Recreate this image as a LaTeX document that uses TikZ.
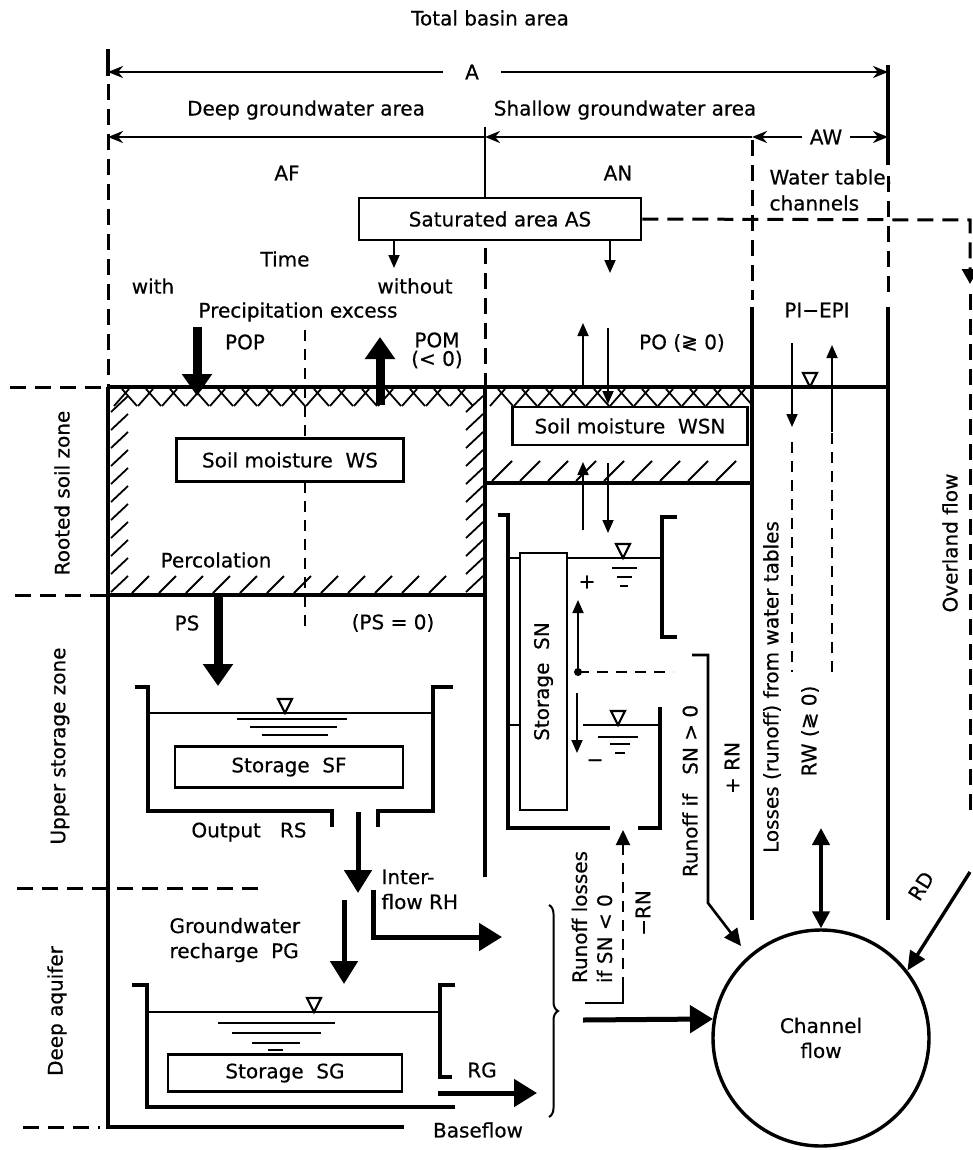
\documentclass[tikz,border=0pt]{standalone}
\usepackage{fontspec}
\setmainfont{DejaVu Sans}[FakeBold=0.5]
\usetikzlibrary{arrows.meta,positioning,decorations.pathreplacing}

\begin{document}
\begin{tikzpicture}[x=1pt, y=-1pt, >=Stealth,
  every node/.style={font=\fontsize{20}{25}\selectfont},
  bound/.style={line width=3.2pt},
  zoneline/.style={line width=3pt, dash pattern=on 16pt off 9pt},
  fluxdash/.style={line width=2pt, dash pattern=on 11pt off 8pt},
  hatch/.style={line width=1.8pt},
  tank/.style={line width=3.2pt},
  wline/.style={line width=1.9pt},
  storebox/.style={draw, line width=2.6pt, fill=white, inner sep=0pt},
  thinarrow/.style={line width=1.8pt, -{Triangle[length=13pt,width=11pt]}},
  fatarrow/.style={line width=9pt, -{Triangle[length=22pt,width=29pt]}},
  midarrow/.style={line width=5pt, -{Triangle[length=23pt,width=27pt]}},
  dimarrow/.style={line width=2.6pt, -{Stealth[length=15pt,width=12pt]}}]
  \useasboundingbox (0,0) rectangle (973,1150);

  % hatching of the soil zones
  \foreach \hx in {114,138,...,466} {
    \draw[hatch] (\hx,406) -- (\hx+15,389);
    \draw[hatch] (\hx+8,389) -- (\hx+23,406);
  }
  \foreach \hy in {412,430,...,592} {
    \draw[hatch] (111,\hy) -- (128,\hy-16);
    \draw[hatch] (466,\hy) -- (483,\hy-16);
  }
  \foreach \hx in {132,159,...,450} \draw[hatch] (\hx,593) -- (\hx+17,576);
  \foreach \hx in {490,514,...,730} {
    \draw[hatch] (\hx,406) -- (\hx+15,389);
    \draw[hatch] (\hx+8,389) -- (\hx+23,406);
  }
  \foreach \hx in {492,520,...,728} \draw[hatch] (\hx,481) -- (\hx+20,461);

  % area boundaries
  \draw[bound] (108,49) -- (108,76);
  \draw[zoneline] (108,84) -- (108,387);
  \draw[bound] (108,387) -- (108,1127) -- (404,1127);
  \draw[zoneline] (23,1127) -- (100,1127);
  \draw[line width=1.8pt] (485,127) -- (485,198);
  \draw[zoneline] (485,248) -- (485,387);
  \draw[bound] (485,387) -- (485,877);
  \draw[fluxdash] (305,330) -- (305,630);
  \draw[zoneline] (752,140) -- (752,300);
  \draw[bound] (752,307) -- (752,920);
  \draw[bound] (888,65) -- (888,165);
  \draw[zoneline] (888,176) -- (888,300);
  \draw[bound] (888,307) -- (888,920);
  \draw[bound] (108,387) -- (888,387);
  \draw[zoneline] (10,387) -- (108,387);
  \draw[bound] (108,595) -- (485,595);
  \draw[zoneline] (15,595) -- (108,595);
  \draw[bound] (485,483) -- (752,483);
  \draw[zoneline] (17,888) -- (262,888);

  % titles and dimension lines
  \node (title) at (490,18) {Total basin area};
  \node[inner xsep=22pt] (lblA) at (472,72) {A};
  \draw[dimarrow] (lblA) -- (888,72);
  \draw[dimarrow] (lblA) -- (108,72);
  \node (deep) at (306,110) {Deep groundwater area};
  \node (shallow) at (625,110) {Shallow groundwater area};
  \draw[dimarrow, {Stealth[length=15pt,width=12pt]}-] (108,137) -- (485,137);
  \draw[dimarrow, {Stealth[length=15pt,width=12pt]}-] (485,137) -- (752,137);
  \node[inner xsep=8pt] (lblAW) at (826,137) {AW};
  \draw[dimarrow] (lblAW) -- (888,137);
  \draw[dimarrow] (lblAW) -- (752,137);
  \node (af) at (287,173) {AF};
  \node (an) at (618,173) {AN};
  \node[align=left, anchor=west, font=\fontsize{20}{26}\selectfont] (wtab) at (766,190) {Water table,\\channels};

  % saturated area and overland flow
  \node[storebox, minimum width=282pt, minimum height=42pt] (sat) at (500,219) {Saturated area AS};
  \draw[zoneline, -{Triangle[length=15pt,width=16pt]}] (sat.east) -- (970,220) -- (970,284);
  \draw[zoneline] (970,294) -- (970,815);
  \node[rotate=90] (overland) at (950,543) {Overland flow};
  \draw[thinarrow] (394,240) -- (394,268);
  \draw[thinarrow] (610,240) -- (610,273);

  \node (time) at (285,259) {Time};
  \node (with) at (153,286) {with};
  \node (without) at (415,286) {without};
  \node (pex) at (298,312) {Precipitation excess};
  \node (pop) at (245,342) {POP};
  \node (pom) at (437,340) {POM};
  \node[below=-4pt of pom] (pomneg) {(< 0)};
  \draw[fatarrow] (197,327) -- (197,396);
  \draw[fatarrow] (380,405) -- (380,337);

  % shallow zone fluxes
  \node (po) at (682,343) {PO (≷ 0)};
  \draw[thinarrow] (583,387) -- (583,323);
  \draw[thinarrow] (608,328) -- (608,404);
  \node (piepi) at (817,310) {PI−EPI};
  \draw[thinarrow] (792,343) -- (792,427);
  \draw[fluxdash] (792,442) -- (792,672);
  \draw[fluxdash] (832,672) -- (832,432);
  \draw[thinarrow] (832,432) -- (832,345);

  % soil moisture
  \node[storebox, minimum width=227pt, minimum height=43pt] (ws) at (290,460) {Soil moisture\ \ WS};
  \node[storebox, minimum width=235pt, minimum height=38pt] (wsn) at (630,426) {Soil moisture\ \ WSN};
  \node (perc) at (216,560) {Percolation};
  \node[rotate=90] (rooted) at (62,493) {Rooted soil zone};
  \node[rotate=90] (upper) at (60,746) {Upper storage zone};
  \node[rotate=90] (aquifer) at (57,1011) {Deep aquifer};
  \draw[thinarrow] (583,530) -- (583,462);
  \draw[thinarrow] (608,463) -- (608,533);

  % upper storage SF
  \node (ps) at (187,623) {PS};
  \node (pszero) at (393,623) {(PS = 0)};
  \draw[fatarrow] (218,595) -- (218,686);
  \draw[tank] (135,687) -- (148,687) -- (148,811) -- (332,811) -- (332,827);
  \draw[tank] (378,827) -- (378,811) -- (433,811) -- (433,687) -- (453,687);
  \draw[wline] (148,713) -- (433,713);
  \foreach \ya/\xa/\xb in {719/237/347, 727/250/337, 735/262/328}
    \draw[wline] (\xa,\ya) -- (\xb,\ya);
  \node[storebox, minimum width=228pt, minimum height=41pt] (sf) at (289,767) {Storage\ \ SF};
  \node (outrs) at (249,832) {Output\ \ \ RS};
  \draw[midarrow] (358,812) -- (358,893);

  % deep aquifer SG
  \node[align=left, anchor=north west] (inter) at (378,866) {Inter-\\flow RH};
  \draw[midarrow] (373,890) -- (373,937) -- (502,937);
  \node[align=left, anchor=west] (recharge) at (166,940) {Groundwater\\recharge\ \ PG};
  \draw[midarrow] (344,900) -- (344,984);
  \draw[tank] (132,985) -- (147,985) -- (147,1107) -- (455,1107);
  \draw[tank] (455,985) -- (440,985) -- (440,1077) -- (452,1077);
  \draw[wline] (147,1012) -- (440,1012);
  \foreach \ya/\xa/\xb in {1023/218/335, 1033/232/321, 1043/252/300, 1050/268/283}
    \draw[wline] (\xa,\ya) -- (\xb,\ya);
  \node[storebox, minimum width=234pt, minimum height=37pt] (sg) at (285,1073) {Storage\ \ SG};
  \node (rg) at (482,1070) {RG};
  \draw[midarrow] (438,1093) -- (537,1093);
  \node (baseflow) at (478,1130) {Baseflow};

  % shallow storage SN
  \draw[tank] (498,515) -- (508,515) -- (508,828) -- (610,828);
  \draw[tank] (638,828) -- (660,828) -- (660,707);
  \draw[tank] (677,517) -- (662,517) -- (662,637) -- (677,637);
  \draw[wline] (508,558) -- (662,558);
  \draw[wline] (507,725) -- (520,725);
  \draw[wline] (583,725) -- (660,725);
  \foreach \ya/\xa/\xb in {568/612/637, 577/617/632, 586/620/628, 737/598/638, 744/610/630, 753/615/625}
    \draw[wline] (\xa,\ya) -- (\xb,\ya);
  \node[storebox, rotate=90, minimum width=257pt, minimum height=47pt] (sn) at (543.5,681.5) {Storage\ \ SN};
  \node (plus) at (587,582) {+};
  \node (minus) at (595,763) {−};
  \draw[thinarrow] (578,672) -- (578,600);
  \draw[thinarrow] (577,693) -- (577,753);
  \fill (578,672) circle (4pt);
  \draw[fluxdash] (578,672) -- (673,672);

  % water table marks
  \foreach \wx/\wy in {285/713, 314/1012, 623/558, 618/725, 810/387}
    \draw[line width=2.2pt, fill=white] (\wx-7,\wy-14) -- (\wx+7,\wy-14) -- (\wx,\wy) -- cycle;

  % channel flow
  \node[draw, circle, line width=3.4pt, minimum size=216pt, align=center] (chan) at (821,1038) {Channel\\flow};
  \node[rotate=90] (runif) at (690,791) {Runoff if\ \ \ SN > 0};
  \node[rotate=90] (plusrn) at (732,768) {+ RN};
  \draw[line width=2.6pt, -{Triangle[length=17pt,width=16pt]}] (692,655) -- (708,655) -- (708,903) -- (741,946);
  \node[rotate=90] (losses) at (772,687) {Losses (runoff) from water tables};
  \node[rotate=90] (rw) at (810,731) {RW (≷ 0)};
  \draw[line width=4pt, {Triangle[length=17pt,width=17pt]}-{Triangle[length=17pt,width=17pt]}] (821,828) -- (chan.north);
  \draw[line width=3.4pt, -{Triangle[length=19pt,width=17pt]}] (970,872) -- (chan.38);
  \node[rotate=58, inner sep=1pt] (rd) at (921,886) {RD};
  \node[rotate=90, align=left] (runloss) at (592,917) {Runoff losses\\if SN < 0};
  \node[rotate=90] (minusrn) at (643,913) {−RN};
  \draw[line width=2pt] (585,1003) -- (623,1003) -- (623,988);
  \draw[fluxdash, -{Triangle[length=15pt,width=14pt]}] (623,988) -- (623,830);
  \draw[line width=2pt, decorate, decoration={brace, amplitude=9pt}] (549,905) -- (549,1117);
  \coordinate (brtip) at (583,1020);
  \draw[midarrow] (brtip) -- (chan.170);
\end{tikzpicture}
\end{document}
